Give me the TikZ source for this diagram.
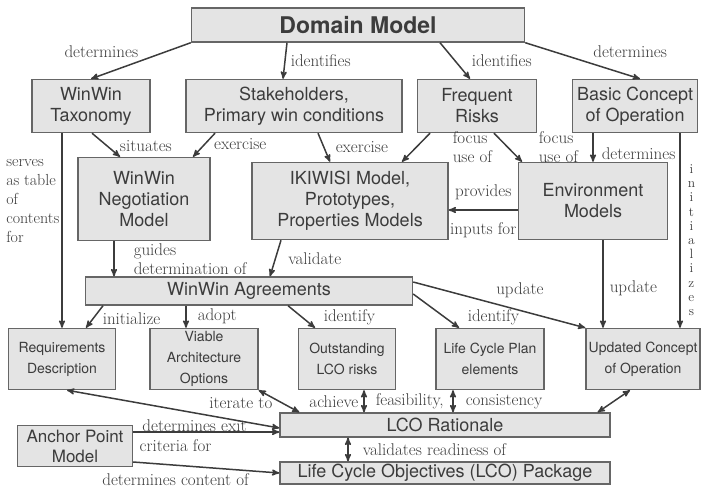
\documentclass[tikz,border=0pt]{standalone}
\usepackage{fontspec}
\setsansfont{TeX Gyre Heros}
\usetikzlibrary{arrows}

\definecolor{boxfill}{HTML}{E4E4E4}
\definecolor{boxline}{HTML}{666666}
\definecolor{ink}{HTML}{3C3C3C}

\tikzset{
	box/.style={draw=boxline, fill=boxfill, line width=1.4pt, inner sep=1pt, align=center, text=ink, font=\sffamily\fontsize{18}{21}\selectfont},
	smallbox/.style={box, font=\sffamily\fontsize{14}{21}\selectfont, minimum height=61pt},
	lbl/.style={font=\fontsize{17}{19}\selectfont, text=ink, inner sep=2pt},
	conn/.style={->, draw=ink, line width=1.5pt}
}

\begin{document}
\begin{tikzpicture}[x=1pt,y=-1pt,>=stealth']
	\useasboundingbox (0,0) rectangle (706,490);

	\node[box, font=\sffamily\bfseries\fontsize{23}{26}\selectfont, minimum width=333pt, minimum height=34pt] (dm) at (358,25) {Domain Model};
	\node[box, minimum width=118pt, minimum height=53pt] (tax) at (91,106) {WinWin\\Taxonomy};
	\node[box, minimum width=216pt, minimum height=53pt] (stk) at (294,106) {Stakeholders,\\Primary win conditions};
	\node[box, minimum width=119pt, minimum height=53pt] (frisk) at (477,106) {Frequent\\Risks};
	\node[box, minimum width=125pt, minimum height=53pt] (bco) at (635,106) {Basic Concept\\of Operation};
	\node[box, minimum width=132pt, minimum height=83pt] (neg) at (144,199) {WinWin\\Negotiation\\Model};
	\node[box, minimum width=196pt, minimum height=77pt] (iki) at (350,201) {IKIWISI Model,\\Prototypes,\\Properties Models};
	\node[box, minimum width=149pt, minimum height=77pt] (env) at (593,201) {Environment\\Models};
	\node[box, minimum width=327pt, minimum height=28pt] (agr) at (249,291) {WinWin Agreements};
	\node[smallbox, minimum width=107pt] (req) at (62,359) {Requirements\\Description};
	\node[smallbox, minimum width=108pt] (via) at (204,359) {Viable\\Architecture\\Options};
	\node[smallbox, minimum width=97pt] (out) at (347,359) {Outstanding\\LCO risks};
	\node[smallbox, minimum width=108pt] (lcp) at (490,359) {Life Cycle Plan\\elements};
	\node[smallbox, minimum width=114pt] (uco) at (643,359) {Updated Concept\\of Operation};
	\node[box, minimum width=330pt, minimum height=24pt] (rat) at (445,425) {LCO Rationale};
	\node[box, minimum width=330pt, minimum height=22pt] (pkg) at (445,473) {Life Cycle Objectives (LCO) Package};
	\node[box, font=\sffamily\fontsize{17}{20}\selectfont, minimum width=115pt, minimum height=41pt] (apm) at (75,446) {Anchor Point\\Model};

	\path[conn]
	(dm.south west) edge node[lbl, above left] {determines} (tax.north)
	([xshift=-71pt]dm.south) edge node[lbl, right=3pt] {identifies} ([xshift=-11pt]stk.north)
	([xshift=82pt]dm.south) edge node[lbl, right=14pt] {identifies} ([xshift=-7pt]frisk.north)
	(dm.south east) edge node[lbl, above right, xshift=8pt] {determines} ([xshift=5pt]bco.north)
	([xshift=1pt]tax.south) edge node[lbl, pos=0.9, anchor=south west] {situates} ([xshift=-24pt]neg.north)
	([xshift=-79pt]stk.south) edge node[lbl, pos=0.8, anchor=south west, xshift=14pt] {exercise} ([xshift=49pt]neg.north)
	([xshift=24pt]stk.south) edge node[lbl, right=9pt] {exercise} ([xshift=-20pt]iki.north)
	([xshift=-47pt]frisk.south) edge node[lbl, right=34pt, align=left] {focus\\use of} ([xshift=52pt]iki.north)
	([xshift=17pt]frisk.south) edge node[lbl, right=28pt, align=left] {focus\\use of} ([xshift=-71pt]env.north)
	(env.north |- bco.south) edge node[lbl, pos=0.7, right=6pt] {determines} (env.north)
	(req.north |- tax.south) edge node[lbl, pos=0.35, left=0pt, align=left, font=\fontsize{16}{19}\selectfont] {serves\\as table\\of\\contents\\for} (req.north)
	([xshift=45pt]bco.south) edge node[lbl, pos=0.55, right=5pt, align=center, font=\fontsize{13.5}{14.2}\selectfont] {i\\n\\i\\t\\i\\a\\l\\i\\z\\e\\s} ([xshift=37pt]uco.north)
	([yshift=-9pt]env.west) edge node[lbl, above=7pt] {provides} node[lbl, below=10pt] {inputs for} ([yshift=-9pt]iki.east)
	([xshift=-30pt]neg.south) edge node[lbl, right=17pt, align=left] {guides\\determination of} ([xshift=-135pt]agr.north)
	([xshift=-69pt]iki.south) edge node[lbl, right=10pt] {validate} ([xshift=21pt]agr.north)
	([xshift=10pt]env.south) edge node[lbl, pos=0.55, right=4pt] {update} ([xshift=-40pt]uco.north)
	([yshift=9pt]agr.east) edge node[lbl, pos=0.62, above=10pt] {update} (uco.north west)
	([xshift=-146pt]agr.south) edge node[lbl, pos=1, anchor=south west, xshift=14pt] {initialize} ([xshift=24pt]req.north)
	([xshift=-63pt]agr.south) edge node[lbl, right=9pt] {adopt} ([xshift=-18pt]via.north)
	([xshift=39pt]agr.south) edge node[lbl, pos=1, anchor=south west, xshift=6pt] {identify} ([xshift=-32pt]out.north)
	([yshift=-3pt]agr.east) edge node[lbl, pos=1, anchor=south west, xshift=6pt] {identify} ([xshift=-31pt]lcp.north)
	([yshift=-3pt]rat.west) edge[<->] ([xshift=5pt]req.south)
	(via.south east) edge[<->] node[lbl, pos=0.6, left=8pt] {iterate to} ([xshift=20pt]rat.north west)
	([xshift=17pt]out.south) edge[<->] node[lbl, left=3pt] {achieve} node[lbl, right=9pt] {feasibility,} ([xshift=-81pt]rat.north)
	([xshift=-37pt]lcp.south) edge[<->] node[lbl, right=10pt] {consistency} ([xshift=8pt]rat.north)
	([xshift=-13pt]uco.south) edge[<->] ([xshift=-13pt]rat.north east)
	([yshift=14pt]apm.east) edge node[lbl, pos=0.42, above=-2pt] {determines exit} node[lbl, pos=0.29, below=5pt] {criteria for} ([yshift=-7pt]rat.west)
	([yshift=-16pt]apm.east) edge node[lbl, pos=0.29, below=6pt] {determines content of} (pkg.west)
	([xshift=-97pt]rat.south) edge node[lbl, right=12pt] {validates readiness of} ([xshift=-97pt]pkg.north)
	;
\end{tikzpicture}
\end{document}
